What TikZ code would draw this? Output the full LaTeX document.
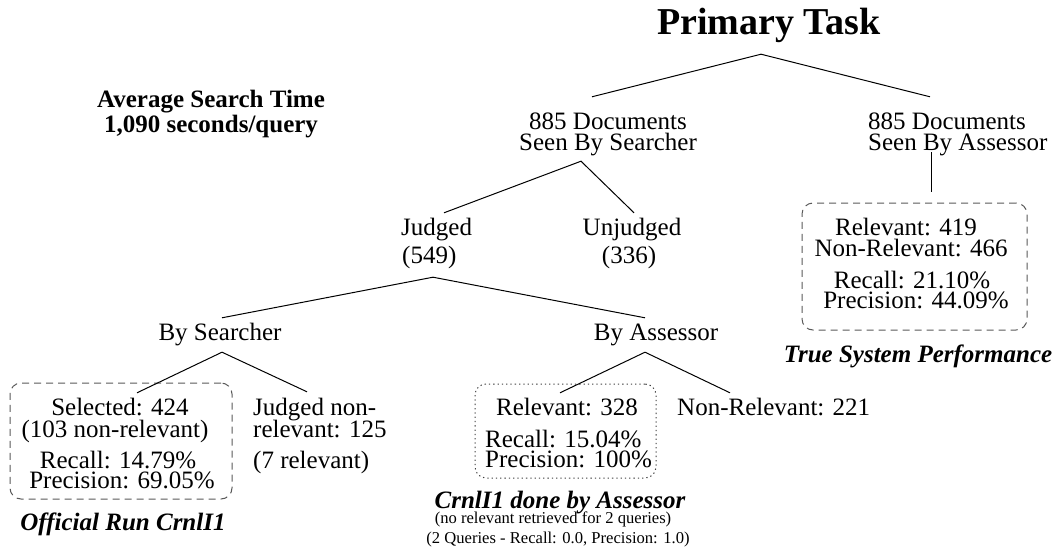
\documentclass[tikz,border=0pt]{standalone}
\usepackage{fontspec}
\setmainfont{Liberation Serif}
\begin{document}
\begin{tikzpicture}[x=1pt,y=-1pt,
  txt/.style={inner sep=0pt, text height=14pt, text depth=3pt, font=\fontsize{25}{25}\selectfont},
  bi/.style={txt, font=\fontsize{25}{25}\selectfont\bfseries\itshape},
  bd/.style={txt, font=\fontsize{25}{25}\selectfont\bfseries},
  titletxt/.style={inner sep=0pt, text height=26pt, text depth=8pt, font=\fontsize{38}{38}\selectfont\bfseries},
  smalltxt/.style={inner sep=0pt, text height=11pt, text depth=3pt, font=\fontsize{16.6}{17}\selectfont},
  conn/.style={line width=1pt},
  dashbox/.style={draw=black!65, line width=1pt, dash pattern=on 7pt off 5pt, rounded corners=11pt, inner sep=0pt},
  dotbox/.style={draw=black!75, line width=1pt, dash pattern=on 1.3pt off 3pt, rounded corners=11pt, inner sep=0pt}
]
\useasboundingbox (0,0) rectangle (1056,556);

% boxes
\node[dashbox, minimum width=222pt, minimum height=116pt] (obox) at (121,441) {};
\node[dotbox, minimum width=181pt, minimum height=94pt] (dbox) at (565.5,431) {};
\node[dashbox, minimum width=225pt, minimum height=127pt] (tbox) at (914.5,266.5) {};

% title and search time
\node[titletxt, anchor=base] (title) at (769,35) {Primary Task};
\node[bd, anchor=base] (avg1) at (211,108) {Average Search Time};
\node[bd, anchor=base] (avg2) at (211,133) {1,090 seconds/query};

% level 1
\node[txt, anchor=base] (sS1) at (608,130) {885 Documents};
\node[txt, anchor=base] (sS2) at (608,150) {Seen By Searcher};
\node[txt, anchor=base west] (sA1) at (868,130) {885 Documents};
\node[txt, anchor=base west] (sA2) at (868,150) {Seen By Assessor};

% level 2
\node[txt, anchor=base west] (jd1) at (401,235) {Judged};
\node[txt, anchor=base west] (jd2) at (402,263) {(549)};
\node[txt, anchor=base] (uj1) at (632,235) {Unjudged};
\node[txt, anchor=base] (uj2) at (629,263) {(336)};

% true system box
\node[txt, anchor=base] (t1) at (906,235) {Relevant: 419};
\node[txt, anchor=base] (t2) at (911,256) {Non-Relevant: 466};
\node[txt, anchor=base] (t3) at (912,288) {Recall: 21.10\%};
\node[txt, anchor=base] (t4) at (916,308) {Precision: 44.09\%};
\node[bi, anchor=base] (tlab) at (918,362) {True System Performance};

% level 3
\node[txt, anchor=base] (bs) at (220,340) {By Searcher};
\node[txt, anchor=base] (ba) at (656,340) {By Assessor};

% official run box
\node[txt, anchor=base] (o1) at (120,415) {Selected: 424};
\node[txt, anchor=base] (o2) at (115,437) {(103 non-relevant)};
\node[txt, anchor=base] (o3) at (118,468) {Recall: 14.79\%};
\node[txt, anchor=base] (o4) at (122,488) {Precision: 69.05\%};
\node[bi, anchor=base] (olab) at (123,530) {Official Run CrnlI1};

\node[txt, anchor=base west] (jn1) at (253,415) {Judged non-};
\node[txt, anchor=base west] (jn2) at (253,437) {relevant: 125};
\node[txt, anchor=base west] (jn3) at (253,468) {(7 relevant)};

% assessor box
\node[txt, anchor=base] (d1) at (567,415) {Relevant: 328};
\node[txt, anchor=base west] (d2) at (485,447) {Recall: 15.04\%};
\node[txt, anchor=base west] (d3) at (485,467) {Precision: 100\%};
\node[txt, anchor=base west] (nr) at (677,415) {Non-Relevant: 221};
\node[bi, anchor=base] (dlab) at (560,508) {CrnlI1 done by Assessor};
\node[smalltxt, anchor=base] (dn1) at (553,523) {(no relevant retrieved for 2 queries)};
\node[smalltxt, anchor=base] (dn2) at (558,543) {(2 Queries - Recall: 0.0, Precision: 1.0)};

% connectors
\draw[conn] ([shift={(-16,-19)}]sS1.north) -- ([shift={(-8,11)}]title.south) -- ([shift={(62,-19)}]sA1.north west);
\draw[conn] ([shift={(43,-8)}]jd1.north west) -- ([shift={(-27,8)}]sS2.south) -- ([shift={(2,-8)}]uj1.north);
\draw[conn] ([shift={(63,-1)}]sA2.south west) -- ([shift={(16.5,-11)}]tbox.north);
\draw[conn] ([shift={(2,-8)}]bs.north) -- ([shift={(31,11)}]jd2.south west) -- ([shift={(-11,-8)}]ba.north);
\draw[conn] ([shift={(17,-8)}]o1.north) -- ([shift={(2,9)}]bs.south) -- ([shift={(54,-9)}]jn1.north west);
\draw[conn] ([shift={(-7,-8)}]d1.north) -- ([shift={(-11,9)}]ba.south) -- ([shift={(53,-8)}]nr.north west);
\end{tikzpicture}
\end{document}
